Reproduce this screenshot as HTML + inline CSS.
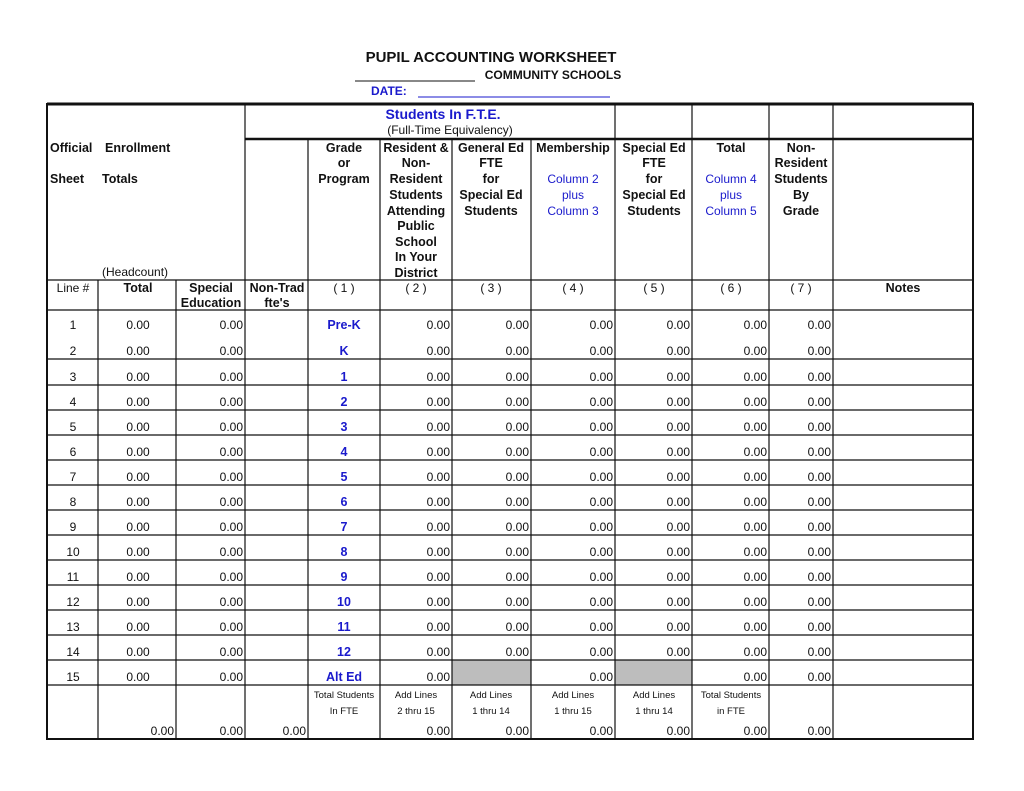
<!DOCTYPE html>
<html><head><meta charset="utf-8"><style>
html,body{margin:0;padding:0;background:#fff;}
svg{display:block;font-family:"Liberation Sans",Arial,sans-serif;}
.b{font-weight:bold;font-size:12.5px;fill:#111;}
.n{font-size:12px;fill:#111;}
.bl{fill:#1a1acc;}
.s{font-size:9.5px;fill:#111;}
.c{text-anchor:middle;}
.r{text-anchor:end;}
</style></head><body>
<svg width="1024" height="791" viewBox="0 0 1024 791" xmlns="http://www.w3.org/2000/svg">
<text x="491" y="62" class="b c" style="font-size:15px">PUPIL ACCOUNTING WORKSHEET</text>
<line x1="355" y1="81" x2="475" y2="81" stroke="#111" stroke-width="1"/>
<text x="553" y="79" class="b c" style="font-size:12px">COMMUNITY SCHOOLS</text>
<text x="371" y="95" class="b bl" style="font-size:12px">DATE:</text>
<line x1="418" y1="97" x2="610" y2="97" stroke="#1a1acc" stroke-width="1"/>

<rect x="452" y="660" width="79" height="25" fill="#bdbdbd"/>
<rect x="615" y="660" width="77" height="25" fill="#bdbdbd"/>

<g stroke="#111" stroke-width="1.2" fill="none">
<rect x="47" y="104" width="926" height="635" stroke-width="2"/>
<line x1="47" y1="104" x2="973" y2="104" stroke-width="3"/>
<line x1="245" y1="139" x2="973" y2="139" stroke-width="2.5"/>
<line x1="47" y1="280" x2="973" y2="280"/>
<line x1="47" y1="310" x2="973" y2="310"/>
<line x1="47" y1="359" x2="973" y2="359"/>
<line x1="47" y1="385" x2="973" y2="385"/>
<line x1="47" y1="410" x2="973" y2="410"/>
<line x1="47" y1="435" x2="973" y2="435"/>
<line x1="47" y1="460" x2="973" y2="460"/>
<line x1="47" y1="485" x2="973" y2="485"/>
<line x1="47" y1="510" x2="973" y2="510"/>
<line x1="47" y1="535" x2="973" y2="535"/>
<line x1="47" y1="560" x2="973" y2="560"/>
<line x1="47" y1="585" x2="973" y2="585"/>
<line x1="47" y1="610" x2="973" y2="610"/>
<line x1="47" y1="635" x2="973" y2="635"/>
<line x1="47" y1="660" x2="973" y2="660"/>
<line x1="47" y1="685" x2="973" y2="685"/>
<line x1="98" y1="280" x2="98" y2="739"/>
<line x1="176" y1="280" x2="176" y2="739"/>
<line x1="245" y1="104" x2="245" y2="739"/>
<line x1="308" y1="139" x2="308" y2="739"/>
<line x1="380" y1="139" x2="380" y2="739"/>
<line x1="452" y1="139" x2="452" y2="739"/>
<line x1="531" y1="139" x2="531" y2="739"/>
<line x1="615" y1="104" x2="615" y2="739"/>
<line x1="692" y1="104" x2="692" y2="739"/>
<line x1="769" y1="104" x2="769" y2="739"/>
<line x1="833" y1="104" x2="833" y2="739"/>
</g>

<text x="443" y="119" class="b c bl" style="font-size:14px">Students In F.T.E.</text>
<text x="450" y="134" class="n c">(Full-Time Equivalency)</text>
<text x="50" y="152" class="b">Official</text><text x="105" y="152" class="b">Enrollment</text>
<text x="50" y="183" class="b">Sheet</text><text x="102" y="183" class="b">Totals</text>
<text x="102" y="276" class="n">(Headcount)</text>
<g class="b c">
<text x="344" y="152">Grade</text><text x="344" y="167">or</text><text x="344" y="183">Program</text>
<text x="416" y="152">Resident &amp;</text><text x="416" y="167">Non-</text><text x="416" y="183">Resident</text><text x="416" y="199">Students</text><text x="416" y="215">Attending</text><text x="416" y="230">Public</text><text x="416" y="246">School</text><text x="416" y="261">In Your</text><text x="416" y="277">District</text>
<text x="491" y="152">General Ed</text><text x="491" y="167">FTE</text><text x="491" y="183">for</text><text x="491" y="199">Special Ed</text><text x="491" y="215">Students</text>
<text x="573" y="152">Membership</text>
<text x="654" y="152">Special Ed</text><text x="654" y="167">FTE</text><text x="654" y="183">for</text><text x="654" y="199">Special Ed</text><text x="654" y="215">Students</text>
<text x="731" y="152">Total</text>
<text x="801" y="152">Non-</text><text x="801" y="167">Resident</text><text x="801" y="183">Students</text><text x="801" y="199">By</text><text x="801" y="215">Grade</text>
<text x="138" y="292">Total</text>
<text x="211" y="292">Special</text><text x="211" y="307">Education</text>
<text x="277" y="292">Non-Trad</text><text x="277" y="307">fte's</text>
<text x="903" y="292">Notes</text>
</g>
<g class="n c bl">
<text x="573" y="183">Column 2</text><text x="573" y="199">plus</text><text x="573" y="215">Column 3</text>
<text x="731" y="183">Column 4</text><text x="731" y="199">plus</text><text x="731" y="215">Column 5</text>
</g>
<g class="n c">
<text x="73" y="292">Line #</text>
<text x="344" y="292">( 1 )</text><text x="416" y="292">( 2 )</text><text x="491" y="292">( 3 )</text><text x="573" y="292">( 4 )</text><text x="654" y="292">( 5 )</text><text x="731" y="292">( 6 )</text><text x="801" y="292">( 7 )</text>
</g>

<g class="n c">
<text x="73" y="329">1</text><text x="73" y="355">2</text><text x="73" y="381">3</text><text x="73" y="406">4</text><text x="73" y="431">5</text><text x="73" y="456">6</text><text x="73" y="481">7</text><text x="73" y="506">8</text><text x="73" y="531">9</text><text x="73" y="556">10</text><text x="73" y="581">11</text><text x="73" y="606">12</text><text x="73" y="631">13</text><text x="73" y="656">14</text><text x="73" y="681">15</text>
<text x="138" y="329">0.00</text><text x="138" y="355">0.00</text><text x="138" y="381">0.00</text><text x="138" y="406">0.00</text><text x="138" y="431">0.00</text><text x="138" y="456">0.00</text><text x="138" y="481">0.00</text><text x="138" y="506">0.00</text><text x="138" y="531">0.00</text><text x="138" y="556">0.00</text><text x="138" y="581">0.00</text><text x="138" y="606">0.00</text><text x="138" y="631">0.00</text><text x="138" y="656">0.00</text><text x="138" y="681">0.00</text>
</g>
<g class="b c bl">
<text x="344" y="329">Pre-K</text><text x="344" y="355">K</text><text x="344" y="381">1</text><text x="344" y="406">2</text><text x="344" y="431">3</text><text x="344" y="456">4</text><text x="344" y="481">5</text><text x="344" y="506">6</text><text x="344" y="531">7</text><text x="344" y="556">8</text><text x="344" y="581">9</text><text x="344" y="606">10</text><text x="344" y="631">11</text><text x="344" y="656">12</text><text x="344" y="681">Alt Ed</text>
</g>
<g class="n r">
<text x="243" y="329">0.00</text><text x="243" y="355">0.00</text><text x="243" y="381">0.00</text><text x="243" y="406">0.00</text><text x="243" y="431">0.00</text><text x="243" y="456">0.00</text><text x="243" y="481">0.00</text><text x="243" y="506">0.00</text><text x="243" y="531">0.00</text><text x="243" y="556">0.00</text><text x="243" y="581">0.00</text><text x="243" y="606">0.00</text><text x="243" y="631">0.00</text><text x="243" y="656">0.00</text><text x="243" y="681">0.00</text>
<text x="450" y="329">0.00</text><text x="450" y="355">0.00</text><text x="450" y="381">0.00</text><text x="450" y="406">0.00</text><text x="450" y="431">0.00</text><text x="450" y="456">0.00</text><text x="450" y="481">0.00</text><text x="450" y="506">0.00</text><text x="450" y="531">0.00</text><text x="450" y="556">0.00</text><text x="450" y="581">0.00</text><text x="450" y="606">0.00</text><text x="450" y="631">0.00</text><text x="450" y="656">0.00</text><text x="450" y="681">0.00</text>
<text x="529" y="329">0.00</text><text x="529" y="355">0.00</text><text x="529" y="381">0.00</text><text x="529" y="406">0.00</text><text x="529" y="431">0.00</text><text x="529" y="456">0.00</text><text x="529" y="481">0.00</text><text x="529" y="506">0.00</text><text x="529" y="531">0.00</text><text x="529" y="556">0.00</text><text x="529" y="581">0.00</text><text x="529" y="606">0.00</text><text x="529" y="631">0.00</text><text x="529" y="656">0.00</text>
<text x="613" y="329">0.00</text><text x="613" y="355">0.00</text><text x="613" y="381">0.00</text><text x="613" y="406">0.00</text><text x="613" y="431">0.00</text><text x="613" y="456">0.00</text><text x="613" y="481">0.00</text><text x="613" y="506">0.00</text><text x="613" y="531">0.00</text><text x="613" y="556">0.00</text><text x="613" y="581">0.00</text><text x="613" y="606">0.00</text><text x="613" y="631">0.00</text><text x="613" y="656">0.00</text><text x="613" y="681">0.00</text>
<text x="690" y="329">0.00</text><text x="690" y="355">0.00</text><text x="690" y="381">0.00</text><text x="690" y="406">0.00</text><text x="690" y="431">0.00</text><text x="690" y="456">0.00</text><text x="690" y="481">0.00</text><text x="690" y="506">0.00</text><text x="690" y="531">0.00</text><text x="690" y="556">0.00</text><text x="690" y="581">0.00</text><text x="690" y="606">0.00</text><text x="690" y="631">0.00</text><text x="690" y="656">0.00</text>
<text x="767" y="329">0.00</text><text x="767" y="355">0.00</text><text x="767" y="381">0.00</text><text x="767" y="406">0.00</text><text x="767" y="431">0.00</text><text x="767" y="456">0.00</text><text x="767" y="481">0.00</text><text x="767" y="506">0.00</text><text x="767" y="531">0.00</text><text x="767" y="556">0.00</text><text x="767" y="581">0.00</text><text x="767" y="606">0.00</text><text x="767" y="631">0.00</text><text x="767" y="656">0.00</text><text x="767" y="681">0.00</text>
<text x="831" y="329">0.00</text><text x="831" y="355">0.00</text><text x="831" y="381">0.00</text><text x="831" y="406">0.00</text><text x="831" y="431">0.00</text><text x="831" y="456">0.00</text><text x="831" y="481">0.00</text><text x="831" y="506">0.00</text><text x="831" y="531">0.00</text><text x="831" y="556">0.00</text><text x="831" y="581">0.00</text><text x="831" y="606">0.00</text><text x="831" y="631">0.00</text><text x="831" y="656">0.00</text><text x="831" y="681">0.00</text>
<text x="174" y="735">0.00</text><text x="243" y="735">0.00</text><text x="306" y="735">0.00</text><text x="450" y="735">0.00</text><text x="529" y="735">0.00</text><text x="613" y="735">0.00</text><text x="690" y="735">0.00</text><text x="767" y="735">0.00</text><text x="831" y="735">0.00</text>
</g>
<g class="s c">
<text x="344" y="698">Total Students</text><text x="344" y="714">In FTE</text>
<text x="416" y="698">Add Lines</text><text x="416" y="714">2 thru 15</text>
<text x="491" y="698">Add Lines</text><text x="491" y="714">1 thru 14</text>
<text x="573" y="698">Add Lines</text><text x="573" y="714">1 thru 15</text>
<text x="654" y="698">Add Lines</text><text x="654" y="714">1 thru 14</text>
<text x="731" y="698">Total Students</text><text x="731" y="714">in FTE</text>
</g>
</svg>
</body></html>
